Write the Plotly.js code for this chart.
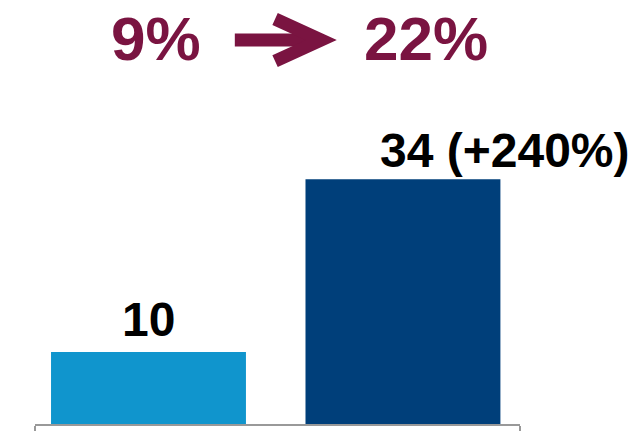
<!DOCTYPE html>
<html>
<head>
<meta charset="utf-8">
<script src="https://cdn.plot.ly/plotly-3.0.1.min.js"></script>
<style>html,body{margin:0;padding:0;background:#fff;}#chart{width:640px;height:431px;}</style>
</head>
<body>
<div id="chart"></div>
<script>
const categories = [0, 1];
const values = [10, 34];
const barLabels = ["10", "34 (+240%)"];
const barColors = ["#1095CD", "#003F7A"];
const titleFrom = "9%";
const titleTo = "22%";

const maroon = "#7A1441";
const labelFont = {family: "Liberation Sans, Arial, sans-serif", size: 48, color: "#000"};

const trace = {
  type: "bar",
  x: categories,
  y: values,
  width: 0.766,
  marker: {color: barColors, line: {width: 0}},
  hoverinfo: "skip"
};

const annotations = [
  {x: categories[0], y: values[0], xref: "x", yref: "y", text: "<b>" + barLabels[0] + "</b>",
   showarrow: false, yanchor: "bottom", xanchor: "center", yshift: 4, font: labelFont},
  {x: categories[1], y: values[1], xref: "x", yref: "y", text: "<b>" + barLabels[1] + "</b>",
   showarrow: false, yanchor: "bottom", xanchor: "left", xshift: -25, yshift: 0, font: labelFont},
  {x: 0.249, y: 1.19, xref: "paper", yref: "paper", text: "<b>" + titleFrom + "</b>",
   showarrow: false, xanchor: "center", yanchor: "middle",
   font: {family: "Liberation Sans, Arial, sans-serif", size: 62, color: maroon}},
  {x: 0.806, y: 1.19, xref: "paper", yref: "paper", text: "<b>" + titleTo + "</b>",
   showarrow: false, xanchor: "center", yanchor: "middle",
   font: {family: "Liberation Sans, Arial, sans-serif", size: 62, color: maroon}}
];

const shapes = [
  {type: "line", xref: "paper", yref: "paper", x0: 0.412, x1: 0.578, y0: 1.185, y1: 1.185,
   line: {color: maroon, width: 13}},
  {type: "path", xref: "paper", yref: "paper",
   path: "M 0.495 1.250 L 0.590 1.185 L 0.495 1.120",
   line: {color: maroon, width: 13}}
];

const layout = {
  width: 640, height: 431,
  margin: {l: 35, r: 120, t: 100, b: 7},
  paper_bgcolor: "#fff", plot_bgcolor: "#fff",
  showlegend: false,
  xaxis: {range: [-0.446, 1.46], showline: true, linecolor: "#999", linewidth: 2,
          tickmode: "array", tickvals: [-0.446, 1.46], ticktext: ["", ""],
          ticks: "outside", ticklen: 8, tickwidth: 2, tickcolor: "#999",
          showgrid: false, zeroline: false, fixedrange: true},
  yaxis: {range: [0, 45], visible: false, showgrid: false, zeroline: false, fixedrange: true},
  annotations: annotations,
  shapes: shapes
};

Plotly.newPlot("chart", [trace], layout, {displayModeBar: false, staticPlot: true});
</script>
</body>
</html>
